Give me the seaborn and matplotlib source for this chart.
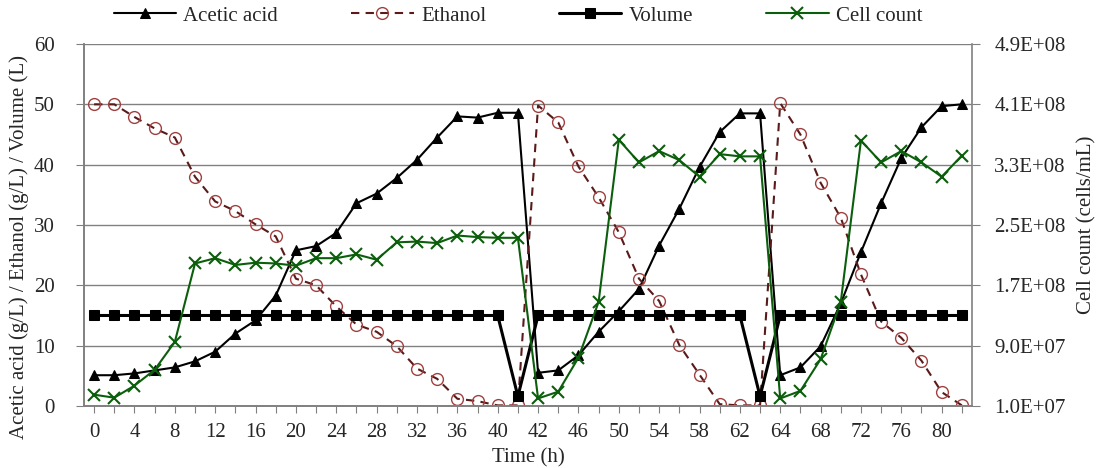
import matplotlib
matplotlib.use("Agg")
import matplotlib.pyplot as plt
import matplotlib.ticker as mticker
import numpy as np
import pandas as pd
import seaborn as sns

# %% Data (Excel-style category axis)
time_h = [0, 2, 4, 6, 8, 10, 12, 14, 16, 18, 20, 22, 24, 26, 28, 30, 32, 34, 36, 38,
          40, 41, 42, 44, 46, 48, 50, 52, 54, 56, 58, 60, 62, 63, 64, 66, 68, 70, 72,
          74, 76, 78, 80, 82]

acetic_acid = [5.1, 5.1, 5.4, 5.9, 6.4, 7.4, 9.0, 12.0, 14.2, 18.3, 25.8, 26.5, 28.7,
               33.6, 35.2, 37.8, 40.8, 44.5, 48.0, 47.8, 48.6, 48.6, 5.5, 5.9, 8.4,
               12.3, 15.7, 19.4, 26.6, 32.7, 39.6, 45.4, 48.5, 48.5, 5.1, 6.4, 9.9,
               17.0, 25.5, 33.6, 41.1, 46.2, 49.7, 50.0]

ethanol = [50.0, 50.0, 47.9, 46.0, 44.5, 38.0, 33.9, 32.3, 30.1, 28.1, 21.1, 20.0,
           16.5, 13.5, 12.3, 9.9, 6.2, 4.5, 1.2, 0.8, 0.1, 0.1, 49.8, 47.0, 39.7,
           34.6, 28.8, 21.1, 17.4, 10.1, 5.2, 0.3, 0.1, 0.1, 50.2, 45.0, 37.0, 31.2,
           21.8, 14.0, 11.3, 7.5, 2.3, 0.1]

volume = [15, 15, 15, 15, 15, 15, 15, 15, 15, 15, 15, 15, 15, 15, 15, 15, 15, 15,
          15, 15, 15, 1.6, 15, 15, 15, 15, 15, 15, 15, 15, 15, 15, 15, 1.6, 15, 15,
          15, 15, 15, 15, 15, 15, 15, 15]

cell_count = [2.50e7, 2.10e7, 3.7e7, 5.8e7, 9.5e7, 1.99e8, 2.06e8, 1.97e8, 2.00e8,
              1.99e8, 1.96e8, 2.06e8, 2.06e8, 2.11e8, 2.04e8, 2.27e8, 2.28e8, 2.26e8,
              2.36e8, 2.34e8, 2.33e8, 2.33e8, 2.0e7, 2.9e7, 7.4e7, 1.48e8, 3.63e8,
              3.33e8, 3.48e8, 3.36e8, 3.14e8, 3.44e8, 3.41e8, 3.41e8, 2.0e7, 3.0e7,
              7.2e7, 1.48e8, 3.62e8, 3.33e8, 3.48e8, 3.33e8, 3.14e8, 3.42e8]

left_ticks = [0, 10, 20, 30, 40, 50, 60]
right_ticks = [1.0e7, 9.0e7, 1.7e8, 2.5e8, 3.3e8, 4.1e8, 4.9e8]

df = pd.DataFrame({
    "time": time_h,
    "acetic": acetic_acid,
    "ethanol": ethanol,
    "volume": volume,
    "cells": cell_count,
})
df["pos"] = df.index  # category position, like Excel's line chart

# %% Style
sns.set_style("white")
plt.rcParams["font.family"] = ["Liberation Serif", "DejaVu Serif"]
plt.rcParams["font.size"] = 15

fig, ax = plt.subplots(figsize=(11.07, 4.68), dpi=100)
fig.subplots_adjust(left=0.0759, right=0.878, top=0.906, bottom=0.1325)

sns.lineplot(data=df, x="pos", y="acetic", ax=ax, color="black", lw=1.5,
             marker="^", markersize=7, markeredgecolor="black", label="Acetic acid")
sns.lineplot(data=df, x="pos", y="ethanol", ax=ax, color="#5a1a1a", lw=1.5,
             linestyle=(0, (4, 3)), marker="o", markersize=8.5,
             markerfacecolor="none", markeredgecolor="#a04040", markeredgewidth=1,
             label="Ethanol")
sns.lineplot(data=df, x="pos", y="volume", ax=ax, color="black", lw=2.2,
             marker="s", markersize=7, markeredgecolor="black", label="Volume")

ax2 = ax.twinx()
sns.lineplot(data=df, x="pos", y="cells", ax=ax2, color="#0b5e0b", lw=1.5,
             marker="x", markersize=8, markeredgewidth=1.5,
             markeredgecolor="#0b5e0b", label="Cell count")

# %% Axes
ax.set_xlim(-0.5, len(df) - 0.5)
ax.set_ylim(0, 60)
ax.set_yticks(left_ticks)
ax.set_xticks(df["pos"])
ax.set_xticklabels([str(t) if i % 2 == 0 else "" for i, t in enumerate(time_h)])
ax.yaxis.grid(True, color="#808080", lw=1)
ax.set_axisbelow(True)
ax.set_xlabel("Time (h)", labelpad=5)
ax.set_ylabel("Acetic acid (g/L) / Ethanol (g/L) / Volume (L)")
ax.yaxis.set_label_coords(-0.062, 0.44)
ax.tick_params(axis="x", direction="out", length=5, color="#808080",
               bottom=True, pad=7)
ax.tick_params(axis="y", direction="out", length=6, color="#808080",
               left=True, pad=15)

ax2.set_ylim(right_ticks[0], right_ticks[-1])
ax2.set_yticks(right_ticks)
ax2.yaxis.set_major_formatter(mticker.FuncFormatter(lambda v, p: "{:.1E}".format(v)))
ax2.set_ylabel("Cell count (cells/mL)", labelpad=8)
ax2.tick_params(axis="y", direction="out", length=6, color="#808080", right=True, pad=10)

for a in (ax, ax2):
    a.spines["top"].set_visible(False)
    for s in ("left", "bottom", "right"):
        a.spines[s].set_color("#808080")
        a.spines[s].set_linewidth(1.2)
ax.spines["right"].set_visible(False)

# %% Legend on top
h1, l1 = ax.get_legend_handles_labels()
h2, l2 = ax2.get_legend_handles_labels()
ax.get_legend().remove()
ax2.get_legend().remove()
fig.legend(h1 + h2, l1 + l2, loc="center", bbox_to_anchor=(0.468, 0.966), ncol=4,
           frameon=False, handlelength=3.0, columnspacing=3.5, handletextpad=0.35)

fig.savefig("out.png", dpi=100)
